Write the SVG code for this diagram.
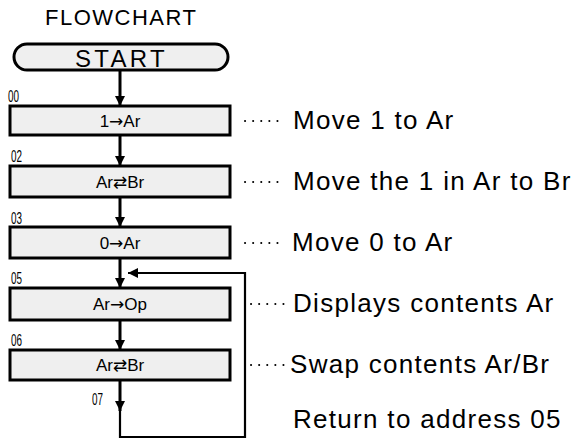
<svg xmlns="http://www.w3.org/2000/svg" width="577" height="439" viewBox="0 0 577 439">
<style>
.box{fill:#efefef;stroke:#000;stroke-width:3}
.ln{fill:none;stroke:#000;stroke-width:3}
.loop{fill:none;stroke:#000;stroke-width:2.2}
.dots{fill:none;stroke:#000;stroke-width:2;stroke-linecap:round;stroke-dasharray:0.1 8}
.bt{font-family:"Liberation Sans","DejaVu Sans",sans-serif;font-size:17px;text-anchor:middle;fill:#000}
.ar{font-family:"DejaVu Sans",sans-serif}
.rt{font-family:"Liberation Sans","DejaVu Sans",sans-serif;font-size:26px;letter-spacing:1.3px;fill:#000}
.ad{font-family:"Liberation Sans",sans-serif;font-size:16px;fill:#000}
.hd{font-family:"Liberation Sans",sans-serif;font-size:22px;letter-spacing:1.5px;fill:#000}
.st{font-family:"Liberation Sans",sans-serif;font-size:24px;letter-spacing:3.3px;fill:#000}
</style>
<defs>
<marker id="ah" markerUnits="userSpaceOnUse" markerWidth="10" markerHeight="10" refX="10" refY="5" orient="auto">
<path d="M0,0 L10,5 L0,10 z" fill="#000"/>
</marker>
</defs>
<rect width="577" height="439" fill="#fff"/>
<text class="hd" x="45" y="25">FLOWCHART</text>

<g id="start">
<rect x="14" y="44" width="214" height="26" rx="13" ry="13" class="box"/>
<text class="st" x="75" y="67">START</text>
</g>

<g id="n00">
<text class="ad" x="8" y="102" textLength="11" lengthAdjust="spacingAndGlyphs">00</text>
<rect x="10" y="106" width="220" height="29" class="box"/>
<text class="bt" x="120" y="127">1<tspan class="ar">→</tspan>Ar</text>
<line x1="245" y1="121" x2="279" y2="121" class="dots"/>
<text class="rt" x="293" y="129">Move 1 to Ar</text>
</g>

<g id="n02">
<text class="ad" x="11" y="162" textLength="11" lengthAdjust="spacingAndGlyphs">02</text>
<rect x="10" y="166" width="220" height="31" class="box"/>
<text class="bt" x="120" y="188">Ar<tspan class="ar">⇄</tspan>Br</text>
<line x1="245" y1="182" x2="279" y2="182" class="dots"/>
<text class="rt" x="293" y="190">Move the 1 in Ar to Br</text>
</g>

<g id="n03">
<text class="ad" x="11" y="224" textLength="11" lengthAdjust="spacingAndGlyphs">03</text>
<rect x="10" y="227" width="220" height="31" class="box"/>
<text class="bt" x="120" y="249">0<tspan class="ar">→</tspan>Ar</text>
<line x1="245" y1="243" x2="279" y2="243" class="dots"/>
<text class="rt" x="292" y="251">Move 0 to Ar</text>
</g>

<g id="n05">
<text class="ad" x="11" y="284" textLength="11" lengthAdjust="spacingAndGlyphs">05</text>
<rect x="10" y="288" width="220" height="32" class="box"/>
<text class="bt" x="120" y="310">Ar<tspan class="ar">→</tspan>Op</text>
<line x1="251" y1="304" x2="285" y2="304" class="dots"/>
<text class="rt" x="293" y="312">Displays contents Ar</text>
</g>

<g id="n06">
<text class="ad" x="11" y="346" textLength="11" lengthAdjust="spacingAndGlyphs">06</text>
<rect x="10" y="350" width="220" height="30" class="box"/>
<text class="bt" x="120" y="371">Ar<tspan class="ar">⇄</tspan>Br</text>
<line x1="251" y1="365" x2="285" y2="365" class="dots"/>
<text class="rt" x="290" y="373">Swap contents Ar/Br</text>
</g>

<g id="n07">
<text class="ad" x="92" y="405" textLength="11" lengthAdjust="spacingAndGlyphs">07</text>
<text class="rt" x="293" y="428">Return to address 05</text>
</g>

<g id="connectors">
<line x1="120" y1="71" x2="120" y2="106" class="ln" marker-end="url(#ah)"/>
<line x1="120" y1="136" x2="120" y2="166" class="ln" marker-end="url(#ah)"/>
<line x1="120" y1="198" x2="120" y2="227" class="ln" marker-end="url(#ah)"/>
<line x1="120" y1="259" x2="120" y2="288" class="ln" marker-end="url(#ah)"/>
<line x1="120" y1="321" x2="120" y2="350" class="ln" marker-end="url(#ah)"/>
<line x1="120" y1="381" x2="120" y2="411" class="ln" marker-end="url(#ah)"/>
<polyline points="120,408 120,437 245,437 245,273 128,273" class="loop" marker-end="url(#ah)"/>
</g>
</svg>
